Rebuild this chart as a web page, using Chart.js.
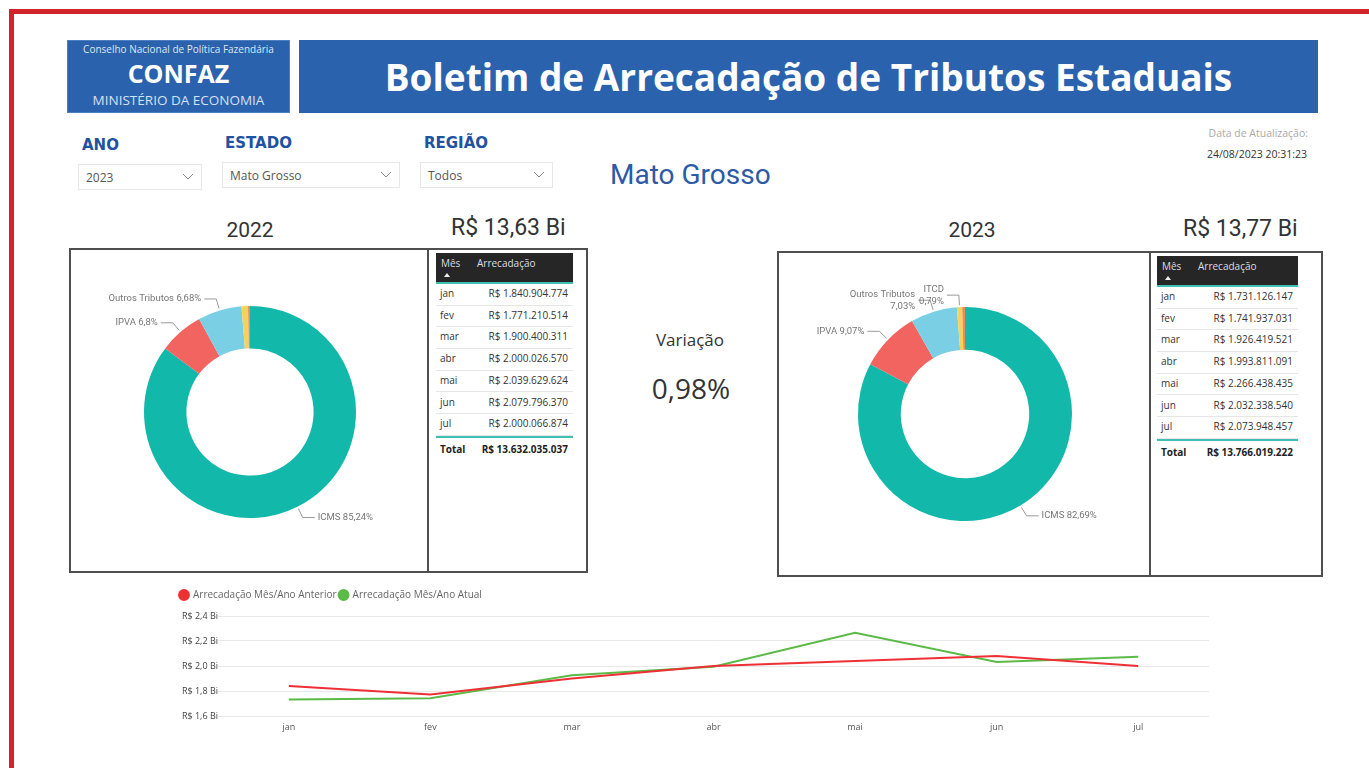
<!DOCTYPE html>
<html lang="pt-BR">
<head>
<meta charset="utf-8">
<title>Boletim de Arrecadação de Tributos Estaduais</title>
<script src="https://cdn.jsdelivr.net/npm/chart.js@4.4.0/dist/chart.umd.min.js"></script>
<style>
  html, body { margin: 0; padding: 0; background: #fff; }
  body { width: 1369px; height: 768px; position: relative; overflow: hidden; font-family: "Open Sans", sans-serif; color: #333; }
  .abs { position: absolute; white-space: nowrap; }
  #frame { position: absolute; left: 9px; top: 9px; width: 1360px; height: 759px; border-top: 5px solid #d1242b; border-left: 5px solid #d1242b; box-sizing: border-box; }
  .blue { background: #2a62ad; }
  #logo { left: 67px; top: 40px; width: 223px; height: 73px; box-shadow: inset 0 0 0 1px #4d7ec2; }
  #logo div { position: absolute; left: 0; width: 100%; text-align: center; color: #fff; }
  #banner { left: 299px; top: 40px; width: 1019px; height: 73px; text-align: center; color: #fff; font-weight: 700; font-size: 37px; line-height: 73px; }
  .flabel { font-family: "DejaVu Sans", sans-serif; font-weight: 900; font-size: 15px; color: #2151a1; line-height: 18px; }
  .drop { position: absolute; border: 1px solid #e7e7e7; box-sizing: border-box; height: 26px; font-size: 12px; color: #555; line-height: 26px; padding-left: 7px; }
  .drop svg { position: absolute; right: 7px; top: 8px; }
  .box { position: absolute; border: 2px solid #4f4f4f; box-sizing: border-box; }
  .roboto { font-family: Roboto, sans-serif; }
  .tbl { position: absolute; height: 210px; }
  .th { position: absolute; left: 0; top: 0; width: 100%; height: 29px; background: #262626; border-bottom: 2px solid #3fc0b3; color: #d7dee4; font-size: 10px; }
  .th .mes { position: absolute; left: 5px; top: 3px; }
  .th .arr { position: absolute; left: 41px; top: 3px; }
  .th .sort { position: absolute; left: 8px; top: 20px; width: 0; height: 0; border-left: 3px solid transparent; border-right: 3px solid transparent; border-bottom: 4px solid #eee; }
  .tr, .tt { position: absolute; left: 0; width: 100%; box-sizing: border-box; font-size: 10px; }
  .tr { height: 21.7px; line-height: 19px; border-bottom: 1px solid #e6e6e6; }
  .tt { height: 24px; line-height: 22px; border-top: 2px solid #3fc0b3; font-weight: 700; color: #222; }
  .tr .m, .tt .m { position: absolute; left: 4px; }
  .tr .v, .tt .v { position: absolute; right: 5px; }
  canvas { position: absolute; }
</style>
</head>
<body>
<div id="frame"></div>

<div id="logo" class="abs blue">
  <div style="top:2px;font-size:10px;line-height:14px;color:#dce6f4;">Conselho Nacional de Política Fazendária</div>
  <div style="top:18px;font-size:25px;line-height:30px;font-weight:700;">CONFAZ</div>
  <div style="top:51px;font-size:13.5px;line-height:18px;color:#d6e1f2;">MINISTÉRIO DA ECONOMIA</div>
</div>
<div id="banner" class="abs blue">Boletim de Arrecadação de Tributos Estaduais</div>

<div class="abs flabel" style="left:82px;top:136px;">ANO</div>
<div class="abs flabel" style="left:225px;top:134px;">ESTADO</div>
<div class="abs flabel" style="left:424px;top:134px;">REGIÃO</div>
<div class="drop" style="left:78px;top:164px;width:124px;">2023<svg width="12" height="8"><polyline points="1,1 6,6 11,1" fill="none" stroke="#888" stroke-width="1"/></svg></div>
<div class="drop" style="left:222px;top:162px;width:178px;">Mato Grosso<svg width="12" height="8"><polyline points="1,1 6,6 11,1" fill="none" stroke="#888" stroke-width="1"/></svg></div>
<div class="drop" style="left:420px;top:162px;width:133px;">Todos<svg width="12" height="8"><polyline points="1,1 6,6 11,1" fill="none" stroke="#888" stroke-width="1"/></svg></div>

<div class="abs roboto" style="left:610px;top:158px;font-size:28px;line-height:34px;color:#2c5aa6;">Mato Grosso</div>
<div class="abs" style="right:61px;top:125px;font-size:10.5px;line-height:16px;color:#aaa;">Data de Atualização:</div>
<div class="abs" style="right:62px;top:146px;font-size:10.5px;line-height:16px;color:#333;">24/08/2023 20:31:23</div>

<div class="abs roboto" style="left:200px;width:100px;text-align:center;top:216px;font-size:21px;line-height:28px;">2022</div>
<div class="abs roboto" id="tot2022" style="left:451px;top:213px;font-size:23px;line-height:30px;"></div>
<div class="abs roboto" style="left:922px;width:100px;text-align:center;top:216px;font-size:21px;line-height:28px;">2023</div>
<div class="abs roboto" id="tot2023" style="left:1183px;top:214px;font-size:23px;line-height:30px;"></div>

<div class="box" style="left:69px;top:248px;width:360px;height:325px;"></div>
<div class="box" style="left:427px;top:248px;width:161px;height:325px;"></div>
<div class="box" style="left:777px;top:251px;width:374px;height:326px;"></div>
<div class="box" style="left:1149px;top:251px;width:174px;height:326px;"></div>

<canvas id="donut2022" width="356" height="321" style="left:71px;top:250px;"></canvas>
<canvas id="donut2023" width="370" height="322" style="left:779px;top:253px;"></canvas>

<div class="tbl" id="tbl2022" style="left:436px;top:253px;width:137px;"></div>
<div class="tbl" id="tbl2023" style="left:1157px;top:256px;width:141px;"></div>

<div class="abs" style="left:620px;width:140px;text-align:center;top:328px;font-size:17px;line-height:24px;">Variação</div>
<div class="abs" id="variacao" style="left:611px;width:160px;text-align:center;top:369px;font-size:28px;line-height:38px;"></div>

<canvas id="linhas" width="1046" height="163" style="left:163px;top:575px;"></canvas>

<script>
const months = ['jan', 'fev', 'mar', 'abr', 'mai', 'jun', 'jul'];
const arrecadacao2022 = [1840904774, 1771210514, 1900400311, 2000026570, 2039629624, 2079796370, 2000066874];
const arrecadacao2023 = [1731126147, 1741937031, 1926419521, 1993811091, 2266438435, 2032338540, 2073948457];

const tributos = ['ICMS', 'IPVA', 'Outros Tributos', 'ITCD', 'Taxas'];
const share2022 = [85.24, 6.8, 6.68, 0.98, 0.30];
const share2023 = [82.69, 9.07, 7.03, 0.79, 0.42];

const yTicksBi = [1.6, 1.8, 2.0, 2.2, 2.4];

const tributoColors = ['#12b8aa', '#f1645f', '#7acfe4', '#f3d35c', '#f48a52'];

function fmtBRL(n) {
    return 'R$ ' + String(n).replace(/\B(?=(\d{3})+(?!\d))/g, '.');
}
function fmtPct(v) {
    return String(Number(v.toFixed(2))).replace('.', ',') + '%';
}
const sum = arr => arr.reduce((a, b) => a + b, 0);

const total2022 = sum(arrecadacao2022);
const total2023 = sum(arrecadacao2023);
document.getElementById('tot2022').textContent = 'R$ ' + (total2022 / 1e9).toFixed(2).replace('.', ',') + ' Bi';
document.getElementById('tot2023').textContent = 'R$ ' + (total2023 / 1e9).toFixed(2).replace('.', ',') + ' Bi';
document.getElementById('variacao').textContent = ((total2023 / total2022 - 1) * 100).toFixed(2).replace('.', ',') + '%';

function buildTable(id, values) {
    let html = '<div class="th"><span class="mes">Mês</span><span class="sort"></span><span class="arr">Arrecadação</span></div>';
    months.forEach((m, i) => {
        html += `<div class="tr" style="top:${31 + i * 21.7}px"><span class="m">${m}</span><span class="v">${fmtBRL(values[i])}</span></div>`;
    });
    html += `<div class="tt" style="top:${31 + 7 * 21.7}px"><span class="m">Total</span><span class="v">${fmtBRL(sum(values))}</span></div>`;
    document.getElementById(id).innerHTML = html;
}
buildTable('tbl2022', arrecadacao2022);
buildTable('tbl2023', arrecadacao2023);

// rótulos com linha de chamada, estilo Power BI
const leaderLabels = {
    id: 'leaderLabels',
    afterDatasetsDraw(chart, args, opts) {
        const ctx = chart.ctx;
        const meta = chart.getDatasetMeta(0);
        const values = chart.data.datasets[0].data;
        ctx.save();
        ctx.font = '9.5px Roboto';
        ctx.fillStyle = '#777';
        ctx.strokeStyle = '#9a9a9a';
        ctx.lineWidth = 1;
        ctx.textBaseline = 'middle';
        meta.data.forEach((arc, i) => {
            const label = chart.data.labels[i];
            if (!opts.show.includes(label)) return;
            const p = arc.getProps(['x', 'y', 'startAngle', 'endAngle', 'outerRadius'], true);
            const mid = (p.startAngle + p.endAngle) / 2;
            const cos = Math.cos(mid), sin = Math.sin(mid);
            const x0 = p.x + cos * (p.outerRadius + 2), y0 = p.y + sin * (p.outerRadius + 2);
            const x1 = p.x + cos * (p.outerRadius + 12), y1 = p.y + sin * (p.outerRadius + 12);
            const dir = cos >= 0 ? 1 : -1;
            const x2 = x1 + dir * 12;
            ctx.beginPath();
            ctx.moveTo(x0, y0);
            ctx.lineTo(x1, y1);
            ctx.lineTo(x2, y1);
            ctx.stroke();
            const pct = fmtPct(values[i]);
            const lines = opts.wrap.includes(label) ? [label, pct] : [label + ' ' + pct];
            ctx.textAlign = dir > 0 ? 'left' : 'right';
            lines.forEach((t, k) => {
                ctx.fillText(t, x2 + dir * 3, y1 + (k - (lines.length - 1) / 2) * 12);
            });
        });
        ctx.restore();
    }
};

function donut(id, shares, padding, show, wrap) {
    new Chart(document.getElementById(id), {
        type: 'doughnut',
        data: {
            labels: tributos,
            datasets: [{
                data: shares,
                backgroundColor: tributoColors,
                borderWidth: 0
            }]
        },
        options: {
            responsive: false,
            animation: false,
            cutout: '60%',
            layout: { padding: padding },
            plugins: {
                legend: { display: false },
                tooltip: { enabled: false },
                leaderLabels: { show: show, wrap: wrap }
            }
        },
        plugins: [leaderLabels]
    });
}

donut('donut2022', share2022, { left: 73, right: 71, top: 56, bottom: 53 }, ['ICMS', 'IPVA', 'Outros Tributos'], []);
donut('donut2023', share2023, { left: 79, right: 77, top: 54, bottom: 54 }, ['ICMS', 'IPVA', 'Outros Tributos', 'ITCD'], ['Outros Tributos', 'ITCD']);

// espaço extra abaixo da legenda
const legendGap = {
    id: 'legendGap',
    beforeInit(chart) {
        const fit = chart.legend.fit;
        chart.legend.fit = function () {
            fit.bind(chart.legend)();
            this.height += 6;
        };
    }
};

new Chart(document.getElementById('linhas'), {
    type: 'line',
    data: {
        labels: months,
        datasets: [
            {
                label: 'Arrecadação Mês/Ano Anterior',
                data: arrecadacao2022.map(v => v / 1e9),
                borderColor: '#ee3035',
                backgroundColor: '#ee3035',
                borderWidth: 2,
                pointRadius: 0,
                tension: 0
            },
            {
                label: 'Arrecadação Mês/Ano Atual',
                data: arrecadacao2023.map(v => v / 1e9),
                borderColor: '#5cba47',
                backgroundColor: '#5cba47',
                borderWidth: 2,
                pointRadius: 0,
                tension: 0
            }
        ]
    },
    options: {
        responsive: false,
        animation: false,
        layout: { padding: { top: 12, left: 14, right: 0, bottom: 0 } },
        plugins: {
            tooltip: { enabled: false },
            legend: {
                position: 'top',
                align: 'start',
                labels: {
                    usePointStyle: true,
                    pointStyle: 'circle',
                    boxWidth: 8,
                    boxHeight: 7,
                    padding: 3,
                    color: '#666',
                    font: { family: 'Open Sans', size: 10 }
                }
            }
        },
        scales: {
            x: {
                offset: true,
                grid: { display: false, drawTicks: false },
                border: { display: false },
                ticks: { color: '#555', font: { family: 'Open Sans', size: 9 }, padding: 6 },
                afterFit: s => { s.height = 22; }
            },
            y: {
                min: yTicksBi[0],
                max: yTicksBi[yTicksBi.length - 1],
                grid: { color: '#e8e8e8', drawTicks: false },
                border: { display: false },
                ticks: {
                    stepSize: yTicksBi[1] - yTicksBi[0],
                    padding: 0,
                    color: '#444',
                    font: { family: 'Open Sans', size: 9 },
                    callback: v => 'R$ ' + v.toFixed(1).replace('.', ',') + ' Bi'
                },
                afterFit: s => { s.width = 41; }
            }
        }
    },
    plugins: [legendGap]
});
</script>
</body>
</html>
